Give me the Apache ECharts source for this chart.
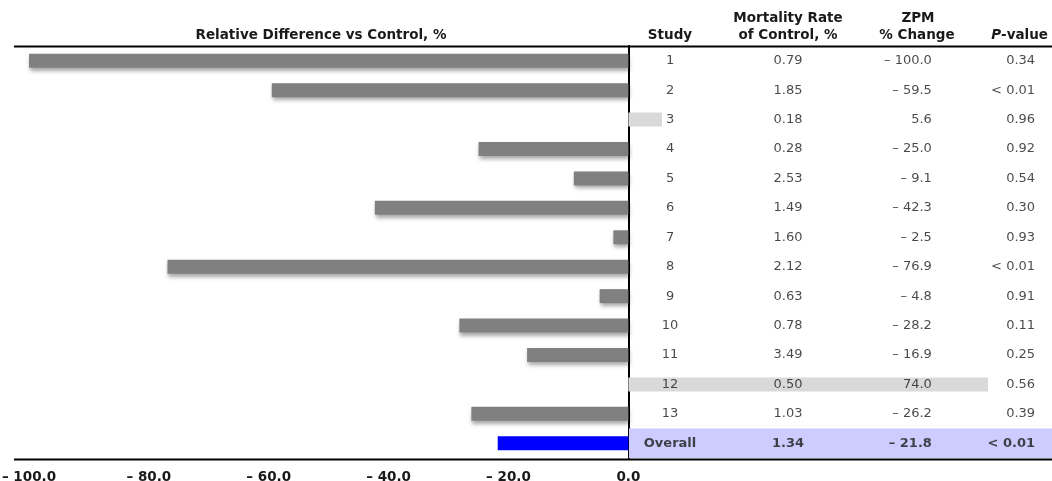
<!DOCTYPE html>
<html>
<head>
<meta charset="utf-8">
<script src="https://cdn.jsdelivr.net/npm/echarts@6/dist/echarts.min.js"></script>
<style>
html,body{margin:0;padding:0;background:#fff;}
#chart{width:1052px;height:481px;}
</style>
</head>
<body>
<div id="chart"></div>
<script>
// ---- data ----
const studies = ['1','2','3','4','5','6','7','8','9','10','11','12','13','Overall'];
const mortality = ['0.79','1.85','0.18','0.28','2.53','1.49','1.60','2.12','0.63','0.78','3.49','0.50','1.03','1.34'];
const zpmChange = [-100.0,-59.5,5.6,-25.0,-9.1,-42.3,-2.5,-76.9,-4.8,-28.2,-16.9,74.0,-26.2,-21.8];
const pValues = ['0.34','< 0.01','0.96','0.92','0.54','0.30','0.93','< 0.01','0.91','0.11','0.25','0.56','0.39','< 0.01'];
const xTicks = [-100,-80,-60,-40,-20,0];

const FONT = '"DejaVu Sans", "Open Sans", sans-serif';
const TXT = '#1a1a1a';
const last = studies.length - 1;

function fmt(v){ return v < 0 ? '\u2013 ' + Math.abs(v).toFixed(1) : v.toFixed(1); }

const barData = zpmChange.map((v,i) => {
  let color = v < 0 ? '#808080' : '#d9d9d9';
  let shadow = v < 0 ? {shadowColor:'rgba(0,0,0,0.35)', shadowBlur:4, shadowOffsetY:3, shadowOffsetX:1} : {};
  if (i === last) { color = '#0000ff'; shadow = {}; }
  return { value: v, itemStyle: Object.assign({ color: color }, shadow) };
});

function textSeries(xPos, strings, position){
  return {
    type: 'scatter', xAxisIndex: 1, yAxisIndex: 1, symbolSize: 0, silent: true, z: 5,
    data: strings.map((s,i) => ({
      value: [xPos, i],
      label: { fontWeight: i === last ? 'bold' : 'normal' }
    })),
    label: {
      show: true, position: position, distance: 0,
      fontFamily: FONT, fontSize: 13, color: TXT,
      formatter: p => strings[p.dataIndex]
    },
    emphasis: { disabled: true }
  };
}

const chart = echarts.init(document.getElementById('chart'));
const hdr = { fontFamily: FONT, fontSize: 13.5, fontWeight: 'bold', fill: TXT };
chart.setOption({
  animation: false,
  grid: [
    { left: 29, right: 64, top: 46, height: 412, outerBoundsMode: 'none', containLabel: false },
    { left: 629, right: 0, top: 46, height: 412, outerBoundsMode: 'none', containLabel: false }
  ],
  xAxis: [
    { type: 'value', gridIndex: 0, min: -100, max: 60, interval: 20,
      splitLine: { show: false }, axisLine: { show: false }, axisTick: { show: false },
      axisLabel: { margin: 12, fontFamily: FONT, fontSize: 13.5, fontWeight: 'bold', color: TXT,
        formatter: v => (xTicks.indexOf(v) >= 0 ? fmt(v) : '') } },
    { type: 'value', gridIndex: 1, min: 0, max: 1, show: false }
  ],
  yAxis: [
    { type: 'category', gridIndex: 0, data: studies, inverse: true,
      axisLabel: { show: false }, axisTick: { show: false }, splitLine: { show: false },
      axisLine: { show: true, onZero: true, lineStyle: { color: '#000', width: 2 } } },
    { type: 'category', gridIndex: 1, data: studies, inverse: true, show: false }
  ],
  series: [
    { type: 'bar', xAxisIndex: 1, yAxisIndex: 1, barCategoryGap: '0%', silent: true, z: 0,
      data: studies.map((s,i) => i === last ? 1 : '-'),
      itemStyle: { color: '#ccccff' } },
    { type: 'bar', xAxisIndex: 0, yAxisIndex: 0, barWidth: 14, silent: true, z: 2,
      data: barData },
    textSeries(0.097, studies, 'inside'),
    textSeries(0.376, mortality, 'inside'),
    textSeries(0.716, zpmChange.map(fmt), 'left'),
    textSeries(0.960, pValues, 'left')
  ],
  graphic: [
    { type: 'line', shape: { x1: 14, y1: 46.5, x2: 1052, y2: 46.5 }, style: { stroke: '#000', lineWidth: 2 }, z: 10 },
    { type: 'line', shape: { x1: 14, y1: 459.5, x2: 1052, y2: 459.5 }, style: { stroke: '#000', lineWidth: 2 }, z: 10 },
    { type: 'text', x: 321, y: 35, style: Object.assign({ text: 'Relative Difference vs Control, %', align: 'center', verticalAlign: 'middle' }, hdr) },
    { type: 'text', x: 670, y: 35, style: Object.assign({ text: 'Study', align: 'center', verticalAlign: 'middle' }, hdr) },
    { type: 'text', x: 788, y: 18, style: Object.assign({ text: 'Mortality Rate', align: 'center', verticalAlign: 'middle' }, hdr) },
    { type: 'text', x: 788, y: 35, style: Object.assign({ text: 'of Control, %', align: 'center', verticalAlign: 'middle' }, hdr) },
    { type: 'text', x: 918, y: 18, style: Object.assign({ text: 'ZPM', align: 'center', verticalAlign: 'middle' }, hdr) },
    { type: 'text', x: 917, y: 35, style: Object.assign({ text: '% Change', align: 'center', verticalAlign: 'middle' }, hdr) },
    { type: 'text', x: 1048, y: 35, style: Object.assign({ text: '{i|P}-value', align: 'right', verticalAlign: 'middle',
        rich: { i: { fontStyle: 'italic', fontFamily: FONT, fontSize: 13.5, fontWeight: 'bold', fill: TXT } } }, hdr) }
  ]
});
</script>
</body>
</html>
